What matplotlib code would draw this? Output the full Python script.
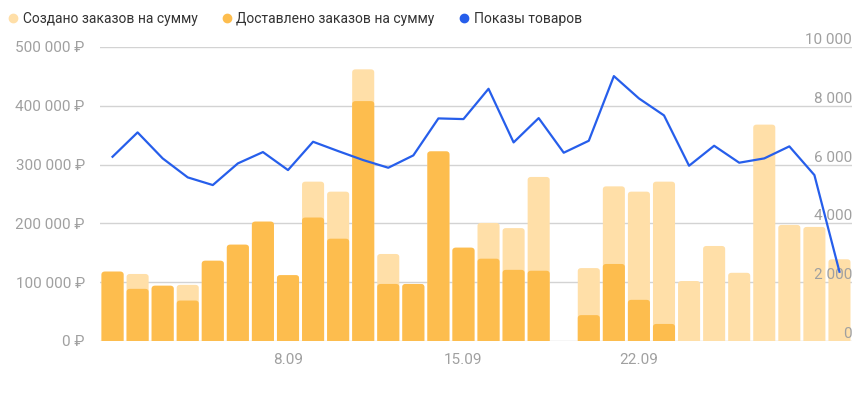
import numpy as np
import matplotlib.pyplot as plt
from matplotlib.lines import Line2D
from matplotlib.patches import FancyBboxPatch

plt.rcParams['font.family'] = ['Roboto', 'DejaVu Sans']

# days of September
days = [f"{d}.09" for d in range(1, 31)]

# orders created, rub
created = [118000, 114000, 94000, 95500, 136500, 163800, 203000, 112000, 271000, 254000,
           462000, 148000, 97000, 322500, 158700, 200800, 192000, 279000, 0, 124000,
           263000, 254000, 271000, 102000, 161600, 116000, 368000, 197400, 194000, 139000]

# orders delivered, rub
delivered = [118000, 88700, 94000, 68800, 136500, 163800, 203000, 112000, 210000, 174000,
             408000, 97000, 97000, 322500, 158700, 140000, 121000, 119500, 0, 44000,
             131000, 70000, 29000, 0, 0, 0, 0, 0, 0, 0]

# product views
views = [6267, 7095, 6211, 5565, 5304, 6041, 6426, 5814, 6777, 6460,
         6154, 5893, 6313, 7571, 7548, 8579, 6755, 7582, 6404, 6811,
         9010, 8251, 7673, 5961, 6641, 6064, 6211, 6620, 5644, 2356]

shown_days = ["8.09", "15.09", "22.09"]

c_created = "#FFDFA8"
c_delivered = "#FDBD4E"
c_views = "#265EEB"
c_grid = "#D3D3D3"
c_tick = "#A0A0A0"


# swap plain bar rectangles for ones with rounded top corners
def round_bars(ax, bars, color, zorder):
    for r in bars:
        h = r.get_height()
        if h <= 0:
            r.remove()
            continue
        patch = FancyBboxPatch((r.get_x(), -6000), r.get_width(), h + 6000,
                               boxstyle="round,pad=0,rounding_size=0.13",
                               mutation_aspect=40000, facecolor=color,
                               edgecolor="none", zorder=zorder)
        ax.add_patch(patch)
        r.remove()


fig = plt.figure(figsize=(8.67, 3.99), dpi=100)
ax = fig.add_axes([100 / 867, 58 / 399, 752 / 867, 294 / 399])

x = np.arange(len(days))
b1 = ax.bar(x, created, width=0.88, color=c_created, zorder=2)
b2 = ax.bar(x, delivered, width=0.88, color=c_delivered, zorder=3)
round_bars(ax, b1, c_created, 2)
round_bars(ax, b2, c_delivered, 3)

ax.set_xlim(-0.5, len(days) - 0.5)
ax.set_ylim(0, 500000)
left_ticks = np.arange(0, 500001, 100000)
ax.set_yticks(left_ticks)
ax.set_yticklabels([f"{v:,}".replace(",", " ") + " ₽" for v in left_ticks])
ax.set_xticks([days.index(d) for d in shown_days])
ax.set_xticklabels(shown_days)
ax.grid(axis="y", color=c_grid, linewidth=1, zorder=0)
ax.set_axisbelow(True)
for s in ax.spines.values():
    s.set_visible(False)
ax.tick_params(axis="both", length=0, colors=c_tick, labelsize=11)
ax.tick_params(axis="y", pad=11)
ax.tick_params(axis="x", pad=9)

ax2 = ax.twinx()
ax2.plot(x, views, color=c_views, linewidth=1.6, zorder=5)
ax2.set_ylim(0, 10000)
right_ticks = np.arange(0, 10001, 2000)
ax2.set_yticks(right_ticks)
ax2.set_yticklabels([f"{v:,}".replace(",", " ") for v in right_ticks])
for s in ax2.spines.values():
    s.set_visible(False)
ax2.tick_params(axis="y", length=0, colors=c_tick, labelsize=11, pad=0)
for lbl in ax2.get_yticklabels():
    lbl.set_horizontalalignment("right")
    lbl.set_verticalalignment("bottom")

handles = [
    Line2D([], [], marker="o", linestyle="", color=c_created, markersize=6),
    Line2D([], [], marker="o", linestyle="", color=c_delivered, markersize=6),
    Line2D([], [], marker="o", linestyle="", color=c_views, markersize=6),
]
labels = ["Создано заказов на сумму", "Доставлено заказов на сумму", "Показы товаров"]
leg = fig.legend(handles, labels, loc="upper left", bbox_to_anchor=(-0.002, 0.995), ncol=3,
                 frameon=False, fontsize=10, handlelength=0.7, handletextpad=0.35,
                 columnspacing=1.75, borderaxespad=0.3)
for t in leg.get_texts():
    t.set_color("#333333")

fig.savefig("out.png", dpi=100)
